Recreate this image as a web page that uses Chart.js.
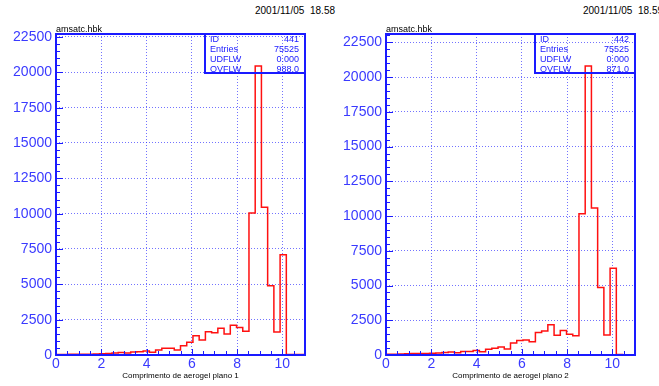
<!DOCTYPE html>
<html>
<head>
<meta charset="utf-8">
<script src="https://cdn.jsdelivr.net/npm/chart.js@4.4.0/dist/chart.umd.min.js"></script>
<style>
  body { margin: 0; background: #fff; width: 659px; height: 386px; overflow: hidden; position: relative;
         font-family: "Liberation Sans", Arial, sans-serif; }
  canvas { position: absolute; top: 0; }
  .stamp { position: absolute; top: 5px; font-size: 10px; color: #000; white-space: pre; }
</style>
</head>
<body>
<div class="stamp" style="left:255px">2001/11/05</div>
<div class="stamp" style="left:310px">18.58</div>
<div class="stamp" style="left:583px">2001/11/05</div>
<div class="stamp" style="left:638px">18.59</div>
<canvas id="h441" width="330" height="386" style="left:0"></canvas>
<canvas id="h442" width="329" height="386" style="left:330px"></canvas>
<script>
// histogram binning (HBOOK style: 40 bins from 0 to 11)
const xLow = 0, xHigh = 11, nBins = 40;

// bin contents
const counts441 = [
  40, 40, 45, 50, 55, 60, 70, 90, 110, 150, 180, 140, 210, 230, 290,
  200, 360, 470, 480, 350, 660, 900, 1370, 1070, 1650, 1580, 1900, 1480, 2100, 1950, 1680,
  10050, 20450, 10450, 4900, 1620, 7100, 30, 30, 30
];
const counts442 = [
  50, 60, 70, 90, 100, 100, 110, 120, 140, 180, 220, 170, 250, 260, 330,
  240, 410, 480, 580, 430, 860, 1040, 1080, 950, 1620, 1730, 2170, 1430, 1760, 1500, 1380,
  10160, 20800, 10570, 4850, 1440, 6250, 30, 20, 20
];

const xTicks = [0, 2, 4, 6, 8, 10];
const yTicks = [0, 2500, 5000, 7500, 10000, 12500, 15000, 17500, 20000, 22500];
const xMinorStep = 0.5, yMinorStep = 500;
const yMax441 = 22710, yMax442 = 23100;

const statNames = ['ID', 'Entries', 'UDFLW', 'OVFLW'];
const stats441 = ['441', '75525', '0.000', '988.0'];
const stats442 = ['442', '75525', '0.000', '871.0'];

const FONT = '"Liberation Sans", Arial, Helvetica, sans-serif';
const BLUE = '#1a1aff';
const LABEL_BLUE = '#3a3aff';
const GRID = 'rgba(40,40,255,0.65)';

// draws the frame, inward ticks, file name and the stats box
const hbookFrame = {
  id: 'hbookFrame',
  afterDatasetsDraw(chart, args, opts) {
    const { ctx, chartArea: a, scales: { x, y } } = chart;
    ctx.save();
    ctx.strokeStyle = BLUE;

    // ticks on bottom and left, pointing into the plot
    ctx.lineWidth = 1;
    ctx.beginPath();
    const nx = Math.round((x.max - x.min) / xMinorStep);
    for (let i = 1; i < nx; i++) {
      const v = x.min + i * xMinorStep;
      const px = Math.round(x.getPixelForValue(v)) + 0.5;
      const len = (v % 2 === 0) ? 6 : 4;
      ctx.moveTo(px, a.bottom);
      ctx.lineTo(px, a.bottom - len);
    }
    const ny = Math.floor(y.max / yMinorStep);
    for (let i = 1; i <= ny; i++) {
      const v = i * yMinorStep;
      const py = Math.round(y.getPixelForValue(v)) + 0.5;
      const len = (v % 2500 === 0) ? 7 : 4;
      ctx.moveTo(a.left, py);
      ctx.lineTo(a.left + len, py);
    }
    ctx.stroke();

    // frame
    ctx.lineWidth = 2;
    ctx.strokeRect(a.left, a.top, a.right - a.left, a.bottom - a.top);

    // stats box
    const bw = 100, bh = 39;
    ctx.strokeRect(a.right - bw, a.top, bw, bh);
    ctx.fillStyle = BLUE;
    ctx.font = '9px ' + FONT;
    ctx.textBaseline = 'middle';
    statNames.forEach((name, i) => {
      const ty = a.top + 5.5 + i * 10;
      ctx.textAlign = 'left';
      ctx.fillText(name, a.right - bw + 5, ty);
      ctx.textAlign = 'right';
      ctx.fillText(opts.stats[i], a.right - 6, ty);
    });

    // file name
    ctx.fillStyle = '#000';
    ctx.font = '9px ' + FONT;
    ctx.textAlign = 'left';
    ctx.textBaseline = 'alphabetic';
    ctx.fillText('amsatc.hbk', a.left, a.top - 2);
    ctx.restore();
  }
};

function makeHist(id, counts, yMax, stats, xTitle, padRight) {
  const binWidth = (xHigh - xLow) / nBins;
  const pts = counts.map((c, i) => ({ x: xLow + i * binWidth, y: c }));
  pts.push({ x: xHigh, y: counts[counts.length - 1] });

  return new Chart(document.getElementById(id), {
    type: 'line',
    data: {
      datasets: [{
        data: pts,
        borderColor: '#ff1010',
        borderWidth: 1.5,
        stepped: true,
        pointRadius: 0,
        fill: false
      }]
    },
    options: {
      responsive: false,
      animation: false,
      layout: { padding: { left: 0, top: 34, right: padRight, bottom: 0 } },
      plugins: {
        legend: { display: false },
        tooltip: { enabled: false },
        hbookFrame: { stats: stats }
      },
      scales: {
        x: {
          type: 'linear',
          min: xLow,
          max: xHigh,
          afterFit(s) { s.height = 31; },
          afterBuildTicks(s) { s.ticks = xTicks.map(v => ({ value: v })); },
          ticks: {
            font: { family: FONT, size: 14 },
            color: LABEL_BLUE,
            padding: 1,
            maxRotation: 0,
            autoSkip: false,
            callback: v => String(v)
          },
          grid: { color: GRID, lineWidth: 1, drawTicks: false },
          border: { display: false, dash: [1, 2] },
          title: {
            display: true,
            text: xTitle,
            color: '#000',
            font: { family: FONT, size: 8 },
            padding: { top: 0, bottom: 5 }
          }
        },
        y: {
          min: 0,
          max: yMax,
          afterFit(s) { s.width = 56; },
          afterBuildTicks(s) { s.ticks = yTicks.map(v => ({ value: v })); },
          ticks: {
            font: { family: FONT, size: 14 },
            color: LABEL_BLUE,
            padding: 4,
            callback: v => String(v)
          },
          grid: { color: GRID, lineWidth: 1, drawTicks: false },
          border: { display: false, dash: [1, 2] }
        }
      }
    },
    plugins: [hbookFrame]
  });
}

makeHist('h441', counts441, yMax441, stats441, 'Comprimento de aerogel plano 1', 25);
makeHist('h442', counts442, yMax442, stats442, 'Comprimento de aerogel plano 2', 24);
</script>
</body>
</html>
